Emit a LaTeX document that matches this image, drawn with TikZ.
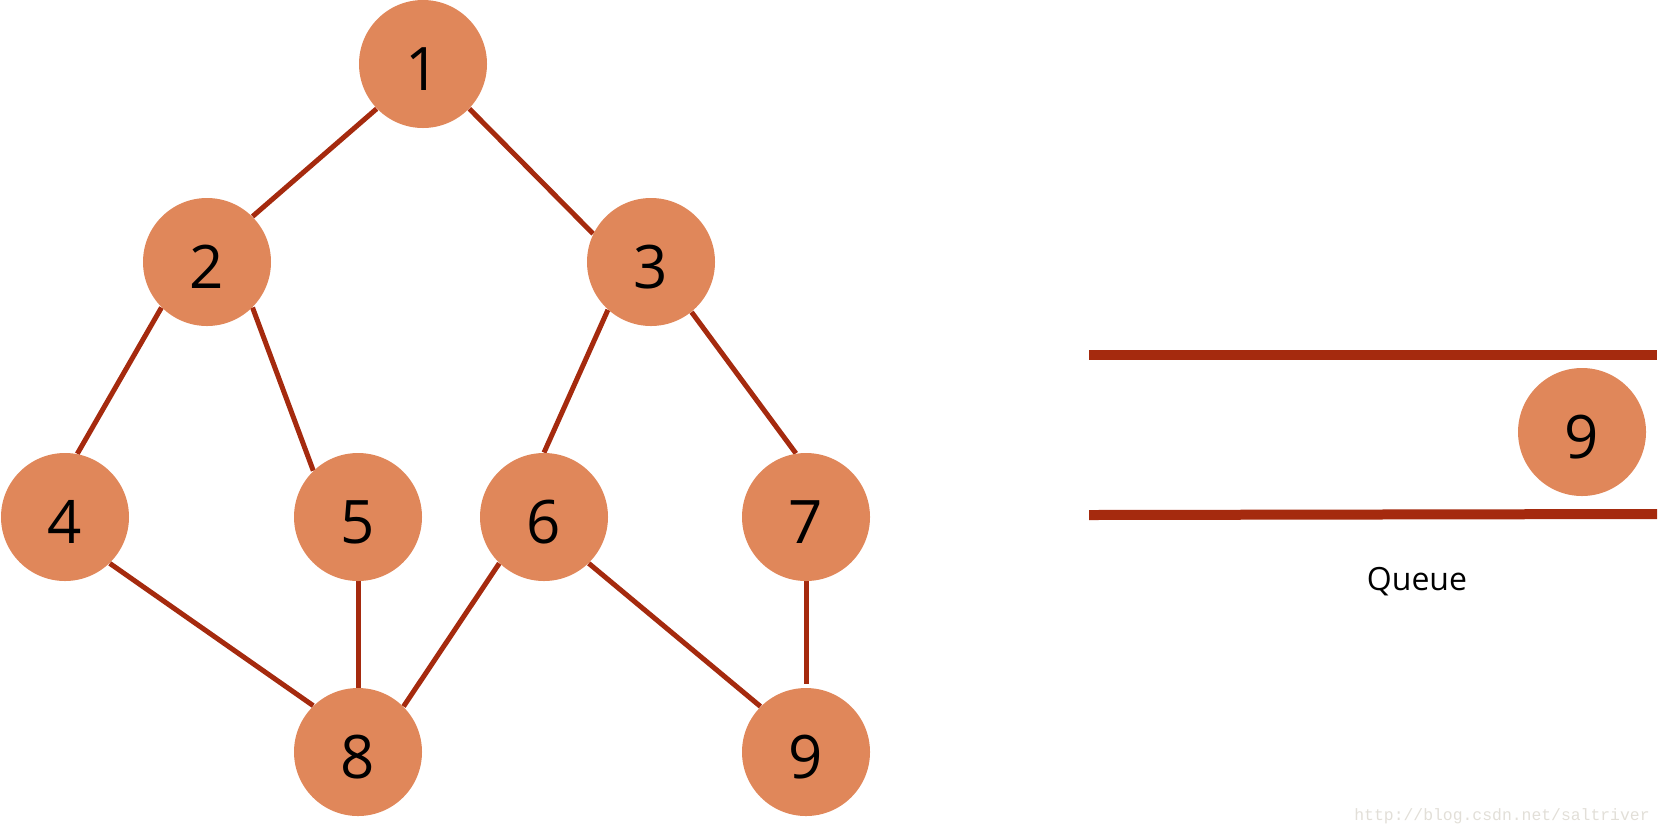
\documentclass[tikz,border=0pt]{standalone}
\usepackage{fontspec}
\setmainfont{Open Sans}
\newfontfamily\wmfont{Liberation Mono}
\usetikzlibrary{backgrounds}
\definecolor{nodefill}{HTML}{E0875A}
\definecolor{edgecol}{HTML}{A52A0E}
\definecolor{wmcol}{HTML}{E2DFD8}
\tikzset{
  vert/.style={circle, fill=nodefill, minimum size=64pt, inner sep=0pt,
    font=\fontsize{30}{30}\selectfont, text=black, text height=26.5pt, text depth=0pt},
  edge/.style={draw=edgecol, line width=2.5pt},
  qline/.style={draw=edgecol, line width=5pt},
}
\begin{document}
\begin{tikzpicture}[x=0.5pt,y=-0.5pt]
\useasboundingbox (0,0) rectangle (1663,837);
\node[vert] (n1) at (423,64) {1};
\node[vert] (n2) at (207,262) {2};
\node[vert] (n3) at (651,262) {3};
\node[vert] (n4) at (65,517) {4};
\node[vert] (n5) at (358,517) {5};
\node[vert] (n6) at (544,517) {6};
\node[vert] (n7) at (806,517) {7};
\node[vert] (n8) at (358,752) {8};
\node[vert] (n9) at (806,752) {9};
\node[vert] (q9) at (1582,432) {9};
\begin{scope}[on background layer]
\draw[edge] (n1.-136) -- (n2.45);
\draw[edge] (n1.-44) -- (n3.154);
\draw[edge] (n2.-135) -- (n4.79);
\draw[edge] (n2.-45) -- (n5.134);
\draw[edge] (n3.-132) -- (n6.90);
\draw[edge] (n3.-51) -- (n7.99);
\draw[edge] (n4.-46) -- (n8.134);
\draw[edge] (n5.-90) -- (n8.90);
\draw[edge] (n6.-134) -- (n8.45);
\draw[edge] (n6.-46) -- (n9.135);
\draw[edge] (n7.-90) -- ([yshift=2pt]n9.90);
\end{scope}
\coordinate (qt1) at (1089,355);
\coordinate (qt2) at (1657,355);
\coordinate (qb1) at (1089,515);
\coordinate (qb2) at (1657,514);
\draw[qline] (qt1) -- (qt2);
\draw[qline] (qb1) -- (qb2);
\node[font=\fontsize{16}{16}\selectfont] (qlabel) at (1417,582) {Queue};
\node[font=\wmfont\fontsize{8.2}{8.2}\selectfont, text=wmcol] (wm) at (1502,816) {http://blog.csdn.net/saltriver};
\end{tikzpicture}
\end{document}
